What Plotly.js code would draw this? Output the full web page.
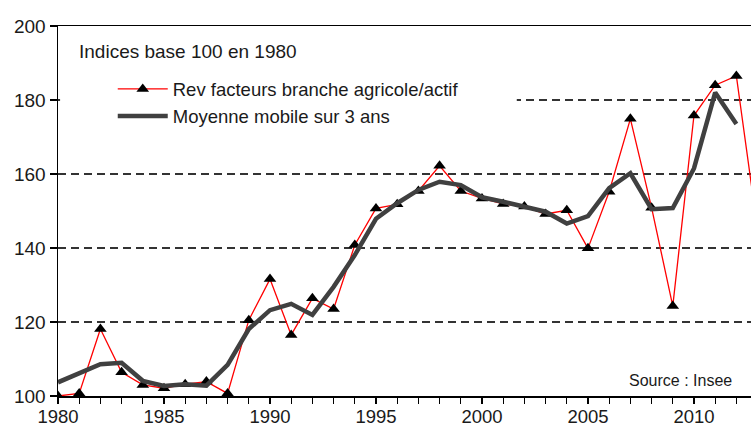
<!DOCTYPE html>
<html>
<head>
<meta charset="utf-8">
<script src="https://cdn.plot.ly/plotly-3.0.1.min.js"></script>
<style>
  html, body { margin: 0; padding: 0; background: #fff; }
  #chart { width: 751px; height: 428px; }
</style>
</head>
<body>
<div id="chart"></div>
<script>
/* Revenu des facteurs de la branche agricole par actif — indices base 100 en 1980 */
const years = [];
for (let y = 1980; y <= 2013; y++) years.push(y);

// Rev facteurs branche agricole/actif (red, triangles)
const revFacteurs = [
  100, 100.7, 118.1, 106.4, 103, 102.1, 103.2, 103.9, 100.7, 120.5,
  131.6, 116.5, 126.4, 123.5, 140.8, 150.7, 151.8, 155.4, 162.2, 155.4,
  153.4, 151.9, 151.2, 149.2, 150.2, 139.9, 155.2, 174.9, 150.9, 124.3,
  175.8, 184, 186.5, 145
];
// Moyenne mobile sur 3 ans (dark grey, thick)
const moyMobile = [
  103.7, 106.1, 108.6, 109, 104.1, 102.7, 103.2, 102.8, 108.4, 118.1,
  123.2, 124.9, 121.9, 129.5, 138.1, 147.9, 152.1, 155.7, 157.9, 157,
  153.7, 152.5, 151.2, 149.8, 146.6, 148.6, 156.2, 160.2, 150.5, 150.8,
  161.5, 182, 173.5
];
const yTicks = [100, 120, 140, 160, 180, 200];

const FONT = "Liberation Sans, Arial, sans-serif";
const INK = "#1a1a1a";

const traces = [
  {
    type: "scatter", mode: "lines+markers", name: "Rev facteurs branche agricole/actif",
    x: years, y: revFacteurs,
    line: { color: "#ff0000", width: 1.3 },
    marker: { symbol: "triangle-up", size: 11, color: "#000" },
  },
  {
    type: "scatter", mode: "lines", name: "Moyenne mobile sur 3 ans",
    x: years.slice(0, moyMobile.length), y: moyMobile,
    line: { color: "#404040", width: 4.5 },
  },
];

const layout = {
  width: 751, height: 428,
  margin: { l: 58, r: 0, t: 26, b: 32 },
  paper_bgcolor: "#fff", plot_bgcolor: "#fff",
  font: { family: FONT, size: 18, color: INK },
  showlegend: true,
  legend: {
    x: 0.079, y: 0.88, xanchor: "left", yanchor: "top",
    bgcolor: "rgba(0,0,0,0)", font: { size: 18.5, color: INK },
    itemwidth: 50, tracegroupgap: 0,
  },
  xaxis: {
    range: [1980, 2012.69], dtick: 5, tick0: 1980,
    ticks: "outside", ticklen: 6, tickwidth: 1.3, tickcolor: "#000",
    minor: { dtick: 1, ticks: "outside", ticklen: 6, tickwidth: 1.3, tickcolor: "#000" },
    showline: true, linecolor: "#000", linewidth: 1.5, mirror: true,
    showgrid: false, zeroline: false, ticklabelstandoff: -3,
    tickfont: { size: 18.5, color: INK },
  },
  yaxis: {
    range: [100, 200], tickvals: yTicks,
    ticks: "outside", ticklen: 7, tickwidth: 1.3, tickcolor: "#000",
    showline: true, linecolor: "#000", linewidth: 1.5,
    showgrid: true, gridcolor: "#333", gridwidth: 1.5, griddash: "8px,5px",
    zeroline: false, ticklabelstandoff: 0,
    tickfont: { size: 19, color: INK },
  },
  shapes: [
    // white panel behind the legend hides part of the 180 gridline
    { type: "rect", xref: "paper", yref: "paper", x0: 0.003, x1: 0.662, y0: 0.7, y1: 0.99,
      fillcolor: "#fff", line: { width: 0 }, layer: "above" },
  ],
  annotations: [
    { xref: "paper", yref: "paper", x: 0.027, y: 0.93, xanchor: "left", yanchor: "middle",
      text: "Indices base 100 en 1980", showarrow: false, font: { size: 19, color: INK } },
    { xref: "paper", yref: "paper", x: 0.975, y: 0.043, xanchor: "right", yanchor: "middle",
      text: "Source : Insee", showarrow: false, font: { size: 16, color: INK } },
  ],
};

Plotly.newPlot("chart", traces, layout, { displayModeBar: false, staticPlot: true });
</script>
</body>
</html>
